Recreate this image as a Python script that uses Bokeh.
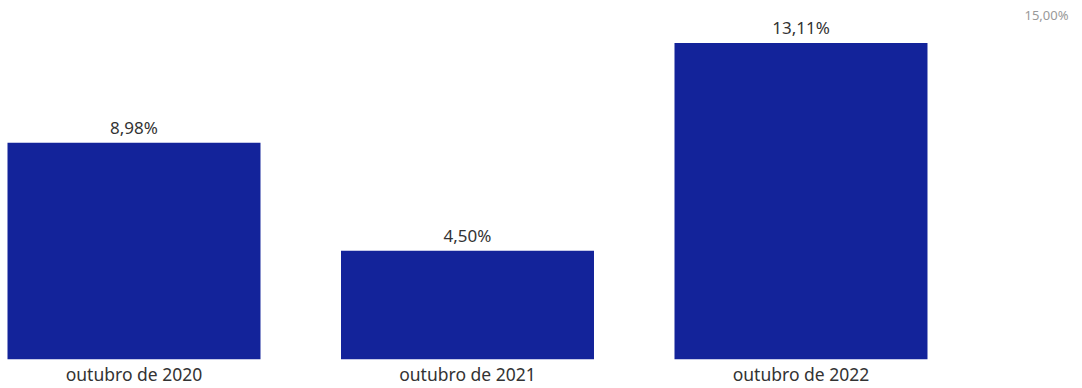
from bokeh.plotting import figure
from bokeh.models import ColumnDataSource, Range1d, FixedTicker, Label
from bokeh.core.properties import value
from bokeh.embed import file_html
from bokeh.resources import INLINE

categories = ["outubro de 2020", "outubro de 2021", "outubro de 2022"]
values = [8.98, 4.50, 13.11]
value_labels = ["8,98%", "4,50%", "13,11%"]
axis_max_label = "15,00%"

xs = list(range(len(categories)))
src = ColumnDataSource(dict(x=xs, top=values, lab=value_labels))

p = figure(width=1082, height=388, output_backend="svg", toolbar_location=None,
           x_range=Range1d(-0.4003, 2.8441), y_range=Range1d(0, 14.87),
           min_border_left=0, min_border_right=0, min_border_top=0, min_border_bottom=0)
p.outline_line_color = None
p.background_fill_color = "white"
p.border_fill_color = "white"
p.xgrid.visible = False
p.ygrid.visible = False
p.yaxis.visible = False

p.vbar(x="x", top="top", bottom=0, width=0.7586, source=src,
       fill_color="#13239A", line_color=None)

p.text(x="x", y="top", text="lab", source=src, text_align="center",
       text_baseline="bottom", y_offset=-4, text_font=value("Noto Sans"),
       text_font_size="17px", text_color="#333333")

ax = p.xaxis[0]
ax.ticker = FixedTicker(ticks=xs)
ax.major_label_overrides = {i: c for i, c in zip(xs, categories)}
ax.axis_line_color = None
ax.major_tick_line_color = None
ax.minor_tick_line_color = None
ax.major_tick_out = 0
ax.major_tick_in = 0
ax.major_label_standoff = 2
ax.axis_label_standoff = 0
ax.major_label_text_font = "Noto Sans"
ax.major_label_text_font_size = "17.5px"
ax.major_label_text_color = "#333333"

p.add_layout(Label(x=1068, y=345, x_units="screen", y_units="screen",
                   text=axis_max_label, text_align="right", text_baseline="middle",
                   text_font="Noto Sans", text_font_size="13px", text_color="#999999"))

open("out.html", "w").write(file_html(p, INLINE))
